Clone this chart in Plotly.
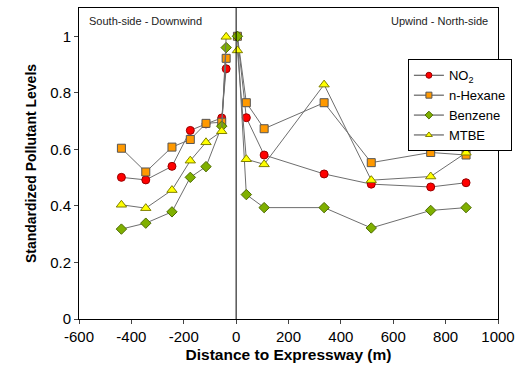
import plotly.graph_objects as go

# Distances (m); None splits the south (downwind) and north (upwind) branches
distance = [-438, -345, -245, -175, -115, -55, -38, None, 5, 39, 107, 336, 516, 743, 878]

no2 =     [0.501, 0.492, 0.540, 0.667, 0.690, 0.711, 0.885, None, 1.000, 0.712, 0.580, 0.513, 0.477, 0.467, 0.482]
hexane =  [0.604, 0.520, 0.608, 0.635, 0.692, 0.696, 0.922, None, 1.000, 0.765, 0.673, 0.765, 0.553, 0.589, 0.580]
benzene = [0.318, 0.339, 0.379, 0.501, 0.539, 0.682, 0.960, None, 1.000, 0.440, 0.394, 0.394, 0.322, 0.384, 0.394]
mtbe =    [0.404, 0.392, 0.456, 0.560, 0.625, 0.664, 0.998, None, 0.950, 0.565, 0.547, 0.829, 0.491, 0.504, 0.588]

x_ticks = [-600, -400, -200, 0, 200, 400, 600, 800, 1000]
x_tick_labels = ["-600", "-400", "-200", "0", "200", "400", "600", "800", "1000"]
y_ticks = [0, 0.2, 0.4, 0.6, 0.8, 1]
y_tick_labels = ["0", "0.2", "0.4", "0.6", "0.8", "1"]

series = [
    ("NO<sub>2</sub>", no2, "circle", "#FF0000", "#990000", 8),
    ("n-Hexane", hexane, "square", "#FF9900", "#555555", 8),
    ("Benzene", benzene, "diamond", "#7FB000", "#4D6B00", 8),
    ("MTBE", mtbe, "triangle-up", "#FFFF00", "#808000", 9),
]

fig = go.Figure()
for name, vals, sym, fill, edge, size in series:
    fig.add_trace(go.Scatter(
        x=distance, y=vals, name=name, mode="lines+markers",
        connectgaps=False, showlegend=False, legendgroup=name,
        line=dict(color="#6E6E6E", width=1),
        marker=dict(symbol=sym, color=fill, size=size, line=dict(color=edge, width=1)),
    ))
# legend entries with the small symbols of the reference legend
for name, vals, sym, fill, edge, size in series:
    fig.add_trace(go.Scatter(
        x=[None], y=[None], name=name, mode="lines+markers", legendgroup=name,
        line=dict(color="#444444", width=1),
        marker=dict(symbol=sym, color=fill, size=6, line=dict(color=edge, width=1)),
    ))

fig.add_shape(type="line", xref="x", yref="paper", x0=0, x1=0, y0=0, y1=1,
              line=dict(color="black", width=1))

fig.add_annotation(text="South-side - Downwind", xref="paper", yref="paper",
                   x=0.02, y=0.985, xanchor="left", yanchor="top", showarrow=False,
                   font=dict(size=11, color="#222222"))
fig.add_annotation(text="Upwind - North-side", xref="paper", yref="paper",
                   x=0.98, y=0.985, xanchor="right", yanchor="top", showarrow=False,
                   font=dict(size=11, color="#222222"))

fig.update_layout(
    width=529, height=368,
    margin=dict(l=79, r=31, t=7, b=48),
    paper_bgcolor="white", plot_bgcolor="white",
    font=dict(family="Liberation Sans, Arial, sans-serif", color="black"),
    showlegend=True,
    legend=dict(x=0.785, y=0.835, xanchor="left", yanchor="top",
                bgcolor="white", bordercolor="black", borderwidth=1,
                font=dict(size=13), tracegroupgap=0, itemwidth=30),
    xaxis=dict(range=[-600, 1000], tickvals=x_ticks, ticktext=x_tick_labels,
               ticks="outside", ticklen=4,
               showgrid=False, zeroline=False, showline=True, linecolor="black",
               mirror=True, tickfont=dict(size=15),
               title=dict(text="<b>Distance to Expressway (m)</b>", font=dict(size=15.5), standoff=5)),
    yaxis=dict(range=[0, 1.1], tickvals=y_ticks, ticktext=y_tick_labels, ticks="outside", ticklen=4,
               showgrid=False, zeroline=False, showline=True, linecolor="black",
               mirror=True, tickfont=dict(size=15),
               title=dict(text="<b>Standardized Pollutant Levels</b>", font=dict(size=14), standoff=10)),
)

fig.write_html("out.html", config={"displayModeBar": False},
               post_script="document.body.style.margin='0';")
